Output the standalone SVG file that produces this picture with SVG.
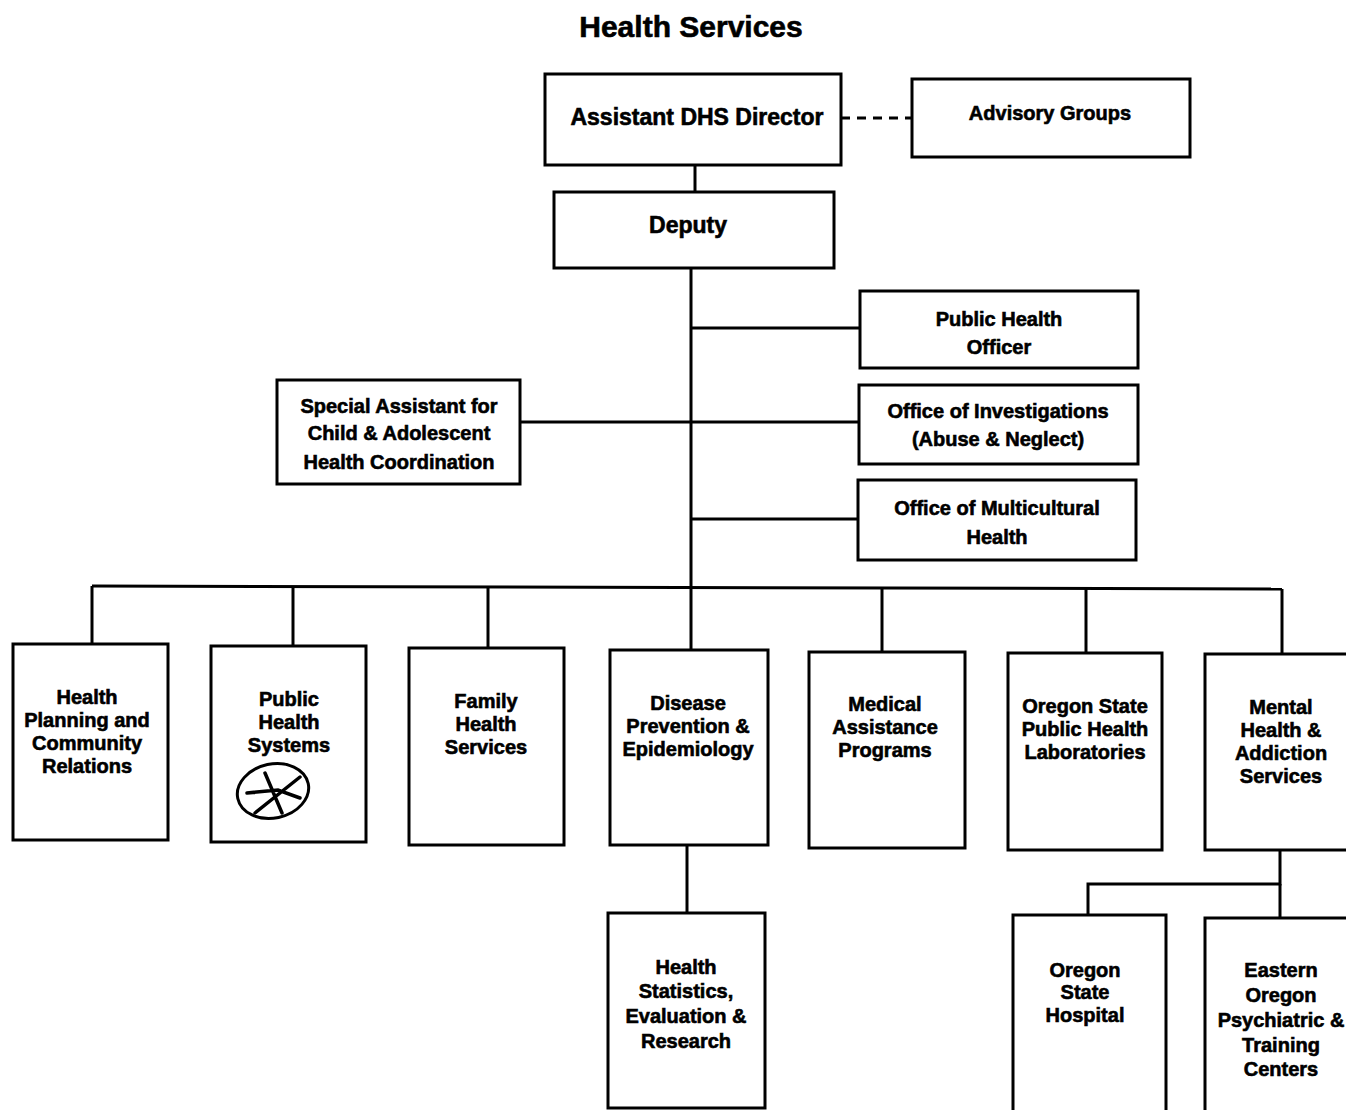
<svg xmlns="http://www.w3.org/2000/svg" width="1346" height="1110" viewBox="0 0 1346 1110">
<style>
.b{fill:#fff;stroke:#000;stroke-width:3}
.c{fill:none;stroke:#000;stroke-width:3}
text{font-family:"Liberation Sans",Arial,sans-serif;font-weight:bold;fill:#000;stroke:#000;stroke-width:0.6;text-anchor:middle}
.t{font-size:20px}
.m{font-size:20px}
</style>
<rect width="1346" height="1110" fill="#fff"/>
<text x="691" y="37" style="font-size:30px">Health Services</text>
<g id="connectors">
<line class="c" x1="841" y1="118" x2="912" y2="118" stroke-dasharray="9,7"/>
<line class="c" x1="695" y1="165" x2="695" y2="192"/>
<line class="c" x1="691" y1="268" x2="691" y2="650"/>
<line class="c" x1="691" y1="328" x2="860" y2="328"/>
<line class="c" x1="520" y1="422" x2="859" y2="422"/>
<line class="c" x1="691" y1="519" x2="858" y2="519"/>
<line class="c" x1="92" y1="586" x2="1282" y2="589"/>
<line class="c" x1="92" y1="586" x2="92" y2="644"/>
<line class="c" x1="293" y1="587" x2="293" y2="646"/>
<line class="c" x1="488" y1="587" x2="488" y2="648"/>
<line class="c" x1="882" y1="588" x2="882" y2="652"/>
<line class="c" x1="1086" y1="588" x2="1086" y2="653"/>
<line class="c" x1="1282" y1="589" x2="1282" y2="654"/>
<line class="c" x1="687" y1="845" x2="687" y2="913"/>
<polyline class="c" points="1280,850 1280,884 1088,884 1088,915"/>
<line class="c" x1="1280" y1="884" x2="1280" y2="918"/>
</g>
<g id="n-director"><rect class="b" x="545" y="74" width="296" height="91"/><text x="697" y="125" style="font-size:23px">Assistant DHS Director</text></g>
<g id="n-advisory"><rect class="b" x="912" y="79" width="278" height="78"/><text x="1050" y="120" style="font-size:20px">Advisory Groups</text></g>
<g id="n-deputy"><rect class="b" x="554" y="192" width="280" height="76"/><text x="688" y="233" style="font-size:23px">Deputy</text></g>
<g id="n-pho"><rect class="b" x="860" y="291" width="278" height="77"/><text class="m" x="999" y="326">Public Health</text><text class="m" x="999" y="354">Officer</text></g>
<g id="n-oi"><rect class="b" x="859" y="385" width="279" height="79"/><text class="m" x="998" y="418">Office of Investigations</text><text class="m" x="998" y="446">(Abuse &amp; Neglect)</text></g>
<g id="n-sa"><rect class="b" x="277" y="380" width="243" height="104"/><text class="m" x="399" y="413">Special Assistant for</text><text class="m" x="399" y="440">Child &amp; Adolescent</text><text class="m" x="399" y="469">Health Coordination</text></g>
<g id="n-omh"><rect class="b" x="858" y="480" width="278" height="80"/><text class="m" x="997" y="515">Office of Multicultural</text><text class="m" x="997" y="544">Health</text></g>
<g id="n-hp"><rect class="b" x="13" y="644" width="155" height="196"/><text class="t" x="87" y="704">Health</text><text class="t" x="87" y="727">Planning and</text><text class="t" x="87" y="750">Community</text><text class="t" x="87" y="773">Relations</text></g>
<g id="n-phs"><rect class="b" x="211" y="646" width="155" height="196"/><text class="t" x="289" y="706">Public</text><text class="t" x="289" y="729">Health</text><text class="t" x="289" y="752">Systems</text>
<ellipse cx="273" cy="791" rx="36" ry="27" fill="none" stroke="#000" stroke-width="3" transform="rotate(-12 273 791)"/>
<path d="M265 773 L282 813 M300 777 L255 813 M247 793 L278 790 L300 798" fill="none" stroke="#000" stroke-width="3.5" stroke-linecap="round"/></g>
<g id="n-fhs"><rect class="b" x="409" y="648" width="155" height="197"/><text class="t" x="486" y="708">Family</text><text class="t" x="486" y="731">Health</text><text class="t" x="486" y="754">Services</text></g>
<g id="n-dpe"><rect class="b" x="610" y="650" width="158" height="195"/><text class="t" x="688" y="710">Disease</text><text class="t" x="688" y="733">Prevention &amp;</text><text class="t" x="688" y="756">Epidemiology</text></g>
<g id="n-map"><rect class="b" x="809" y="652" width="156" height="196"/><text class="t" x="885" y="711">Medical</text><text class="t" x="885" y="734">Assistance</text><text class="t" x="885" y="757">Programs</text></g>
<g id="n-lab"><rect class="b" x="1008" y="653" width="154" height="197"/><text class="t" x="1085" y="713">Oregon State</text><text class="t" x="1085" y="736">Public Health</text><text class="t" x="1085" y="759">Laboratories</text></g>
<g id="n-mhas"><rect class="b" x="1205" y="654" width="150" height="196"/><text class="t" x="1281" y="714">Mental</text><text class="t" x="1281" y="737">Health &amp;</text><text class="t" x="1281" y="760">Addiction</text><text class="t" x="1281" y="783">Services</text></g>
<g id="n-hser"><rect class="b" x="608" y="913" width="157" height="195"/><text class="t" x="686" y="974">Health</text><text class="t" x="686" y="998">Statistics,</text><text class="t" x="686" y="1023">Evaluation &amp;</text><text class="t" x="686" y="1048">Research</text></g>
<g id="n-osh"><rect class="b" x="1013" y="915" width="153" height="205"/><text class="t" x="1085" y="977">Oregon</text><text class="t" x="1085" y="999">State</text><text class="t" x="1085" y="1022">Hospital</text></g>
<g id="n-eop"><rect class="b" x="1205" y="918" width="150" height="202"/><text class="t" x="1281" y="977">Eastern</text><text class="t" x="1281" y="1002">Oregon</text><text class="t" x="1281" y="1027">Psychiatric &amp;</text><text class="t" x="1281" y="1052">Training</text><text class="t" x="1281" y="1076">Centers</text></g>
</svg>
